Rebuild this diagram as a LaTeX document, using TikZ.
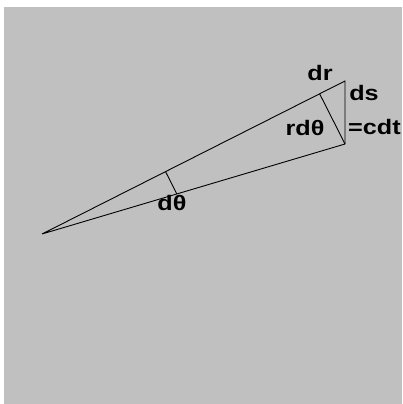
\documentclass[tikz,border=0pt]{standalone}
\usepackage{fontspec}
\setmainfont{Liberation Sans}
\usetikzlibrary{calc}
\definecolor{bgGray}{RGB}{192,192,192}

\begin{document}
\begin{tikzpicture}[x=1pt, y=-1pt,
    ray/.style={line width=0.9pt, black},
    lbl/.style={font=\fontsize{21}{23}\selectfont\bfseries, inner sep=0pt, xscale=1.2}
  ]
  % frame and grey field
  \fill[white] (0,0) rectangle (402,404);
  \fill[bgGray] (4,7) rectangle (402,404);
  \useasboundingbox (0,0) rectangle (402,404);

  % wedge corners
  \coordinate (O) at (42,234);
  \coordinate (A) at (345,81);
  \coordinate (B) at (345,144);
  \coordinate (P) at ($(O)!(B)!(A)$);
  \coordinate (Q) at ($(O)!0.445!(B)$);
  \coordinate (R) at ($(O)!(Q)!(A)$);

  \draw[ray] (O) -- (A) -- (B) -- cycle;
  \draw[ray] (R) -- (Q);
  \draw[ray] (P) -- (B);

  % labels
  \node[lbl] (dr) at (320,73) {dr};
  \node[lbl] (ds) at (364,93) {ds};
  \node[lbl, anchor=west] (cdt) at (348,127) {=cdt};
  \node[lbl] (rdth) at (305,128) {rdθ};
  \node[lbl] (dth) at (172,203) {dθ};
\end{tikzpicture}
\end{document}
